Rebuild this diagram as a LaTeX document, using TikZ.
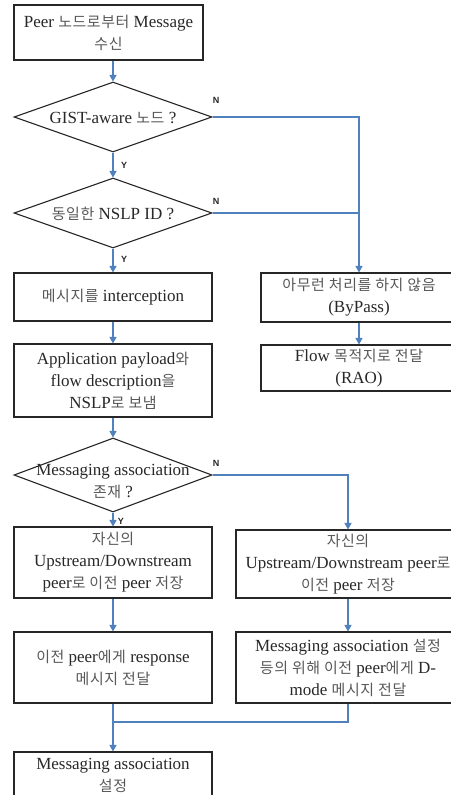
\documentclass[tikz,border=0pt]{standalone}
\usepackage{fontspec}
\setmainfont{Liberation Serif}
\setsansfont{Liberation Sans}
\newfontfamily\krfont{Noto Sans CJK KR}[Scale=0.88, Color=585858, LetterSpace=4]
\newcommand\K[1]{{\krfont #1}}
\usetikzlibrary{shapes.geometric,arrows.meta}
\definecolor{linkblue}{RGB}{79,129,189}
\definecolor{inkgray}{RGB}{40,40,40}
\tikzset{
  box/.style={draw=black!85, line width=1.1pt, inner sep=0pt, align=center,
    text=inkgray, font=\fontsize{17}{22}\selectfont},
  dia/.style={diamond, draw=black!85, line width=1.1pt, inner sep=0pt,
    minimum width=198pt},
  dtext/.style={align=center, inner sep=0pt, text=inkgray,
    font=\fontsize{17}{22}\selectfont},
  flow/.style={draw=linkblue, line width=1.2pt, -{Triangle[width=7pt,length=6.5pt]}},
  link/.style={draw=linkblue, line width=1.2pt},
  yn/.style={font=\sffamily\bfseries\fontsize{9}{10}\selectfont, text=black!85, inner sep=0pt}
}
\begin{document}
\begin{tikzpicture}[x=1pt,y=-1pt]
\fill[white] (0,0) rectangle (450,795);
\useasboundingbox (0,0) rectangle (450,795);

% main column
\node[box, minimum width=189pt, minimum height=55pt] (recv) at (108.5,32.5)
  {Peer \K{노드로부터} Message\\\K{수신}};
\node[dia, minimum height=70pt] (gist) at (113,117) {};
\node[dtext] (gistt) at (113,118) {GIST-aware \K{노드} ?};
\node[dia, minimum height=70pt] (nslp) at (113,213) {};
\node[dtext] (nslpt) at (113,214) {\K{동일한} NSLP ID ?};
\node[box, minimum width=198pt, minimum height=48pt] (icpt) at (113,297)
  {\K{메시지를} interception};
\node[box, minimum width=198pt, minimum height=73pt] (send) at (113,380.5)
  {Application payload\K{와}\\flow description\K{을}\\NSLP\K{로 보냄}};
\node[dia, minimum height=74pt] (assoc) at (113,475) {};
\node[dtext] (assoct) at (113,481) {Messaging association\\\K{존재} ?};
\node[box, minimum width=198pt, minimum height=71pt] (saveL) at (113,562.5)
  {\K{자신의}\\Upstream/Downstream\\peer\K{로 이전} peer \K{저장}};
\node[box, minimum width=198pt, minimum height=71pt] (resp) at (113,667.5)
  {\K{이전} peer\K{에게} response\\\K{메시지 전달}};
\node[box, minimum width=198pt, minimum height=46pt] (setup) at (113,775)
  {Messaging association\\\K{설정}};

% right column
\node[box, minimum width=196pt, minimum height=49pt] (bypass) at (359,297.5)
  {\K{아무런 처리를 하지 않음}\\(ByPass)};
\node[box, minimum width=196pt, minimum height=46pt] (rao) at (359,368)
  {Flow \K{목적지로 전달}\\(RAO)};
\node[box, minimum width=224pt, minimum height=68pt] (saveR) at (348,564)
  {\K{자신의}\\Upstream/Downstream peer\K{로}\\\K{이전} peer \K{저장}};
\node[box, minimum width=224pt, minimum height=71pt] (dmode) at (348,667.5)
  {Messaging association \K{설정}\\\K{등의 위해 이전} peer\K{에게} D-\\mode \K{메시지 전달}};

\coordinate (merge) at (113,722);

% connectors
\draw[flow] (recv.south -| gist.north) -- (gist.north);
\draw[flow] (gist.south) -- (nslp.north);
\draw[flow] (nslp.south) -- (icpt.north);
\draw[flow] (icpt.south) -- (send.north);
\draw[flow] (send.south) -- (assoc.north);
\draw[flow] (assoc.south) -- (saveL.north);
\draw[flow] (saveL.south) -- (resp.north);
\draw[flow] (resp.south) -- (setup.north);
\draw[flow] (gist.east) -| (bypass.north);
\draw[link] (nslp.east) -- (nslp.east -| bypass.north);
\draw[flow] (bypass.south) -- (rao.north);
\draw[flow] (assoc.east) -| (saveR.north);
\draw[flow] (saveR.south) -- (dmode.north);
\draw[link] (dmode.south) |- (merge);

% branch labels
\node[yn] (n1) at (216,100) {N};
\node[yn] (y1) at (124,165) {Y};
\node[yn] (n2) at (216,201) {N};
\node[yn] (y2) at (124,259) {Y};
\node[yn] (n3) at (216,463) {N};
\node[yn] (y3) at (121,521) {Y};
\end{tikzpicture}
\end{document}
